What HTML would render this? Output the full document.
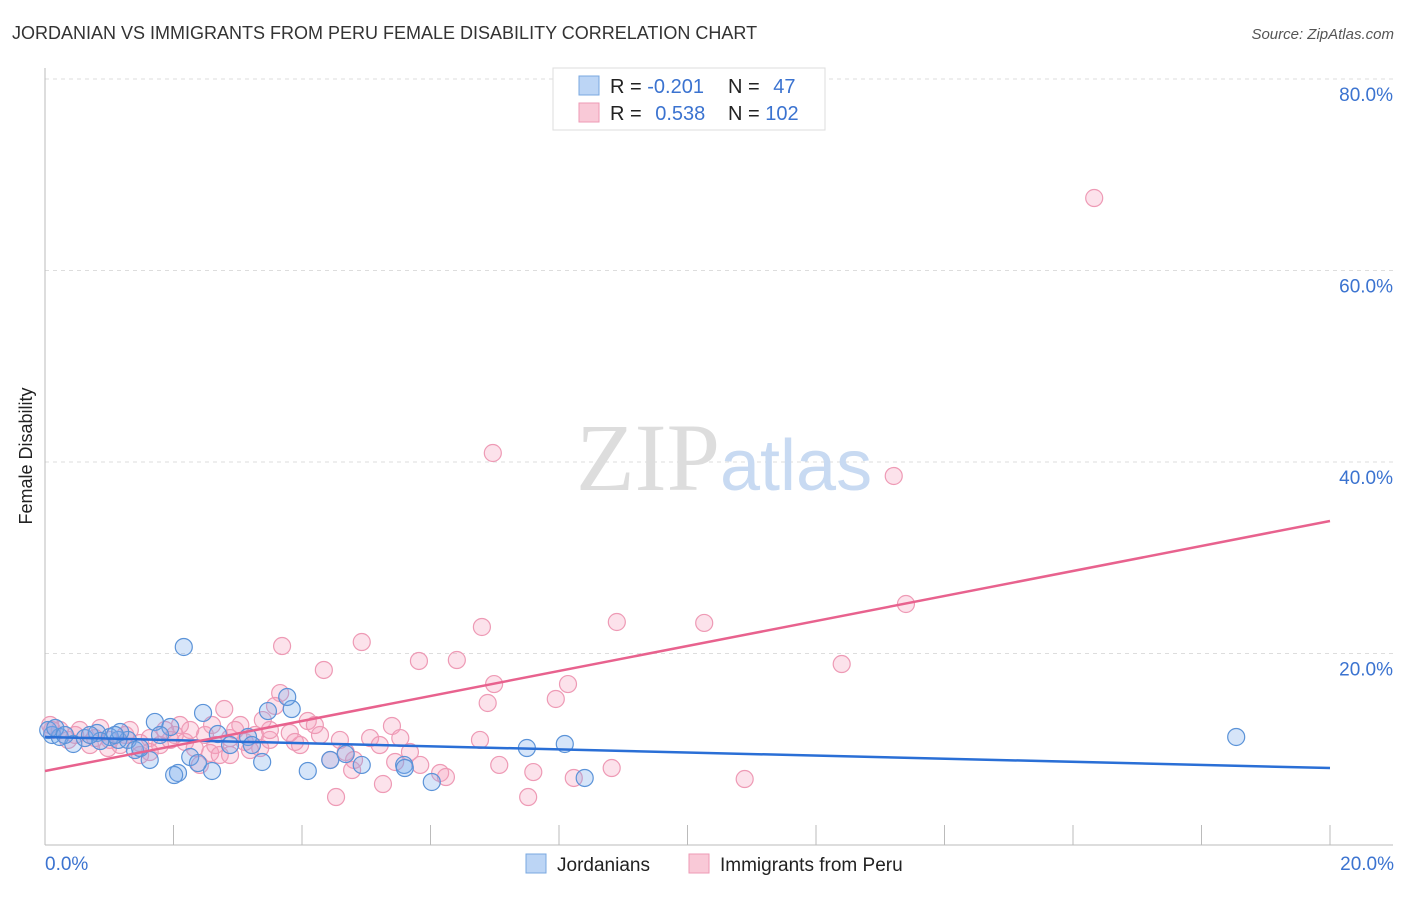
<!DOCTYPE html>
<html><head><meta charset="utf-8">
<style>
body{margin:0;background:#fff;font-family:"Liberation Sans",sans-serif;}
svg text{font-family:"Liberation Sans",sans-serif;}
</style></head>
<body>
<svg id="chart" width="1406" height="892" viewBox="0 0 1406 892">
<text x="12" y="39" font-size="18" fill="#333">JORDANIAN VS IMMIGRANTS FROM PERU FEMALE DISABILITY CORRELATION CHART</text>
<text x="1394" y="39" font-size="15" fill="#555" font-style="italic" text-anchor="end">Source: ZipAtlas.com</text>
<text x="32" y="456" font-size="18" fill="#222" text-anchor="middle" transform="rotate(-90 32 456)">Female Disability</text>
<g id="grid"></g>
<g id="axes"></g>
<text x="720" y="490" font-size="96" fill="#ddd" text-anchor="end" font-family="Liberation Serif" style="font-family:'Liberation Serif',serif">ZIP</text>
<text x="720" y="490" font-size="72" fill="#c8daf2">atlas</text>
<g id="points"></g>
<g id="lines"></g>
<g>
<rect x="553" y="68" width="272" height="62" fill="#fff" stroke="#ddd"/>
<rect x="579" y="76" width="20" height="19" fill="#bcd5f5" stroke="#7aa8e0"/>
<rect x="579" y="103" width="20" height="19" fill="#f9c9d7" stroke="#ee9ab5"/>
<text x="610" y="93" font-size="20" fill="#222">R = <tspan fill="#3b73d0">-0.201</tspan></text>
<text x="728" y="93" font-size="20" fill="#222">N = <tspan fill="#3b73d0" dx="8">47</tspan></text>
<text x="610" y="120" font-size="20" fill="#222">R = <tspan fill="#3b73d0" dx="8">0.538</tspan></text>
<text x="728" y="120" font-size="20" fill="#222">N = <tspan fill="#3b73d0">102</tspan></text>
</g>
<g>
<rect x="526" y="854" width="20" height="19" fill="#bcd5f5" stroke="#7aa8e0"/>
<text x="557" y="871" font-size="19" fill="#222">Jordanians</text>
<rect x="689" y="854" width="20" height="19" fill="#f9c9d7" stroke="#ee9ab5"/>
<text x="720" y="871" font-size="19" fill="#222">Immigrants from Peru</text>
</g>
</svg>
<script>
const blueX=[2.16,2.46,3.84,3.77,3.47,1.71,1.95,2.07,2.01,1.63,2.26,2.60,2.69,3.16,3.38,4.09,4.44,4.93,4.68,5.59,5.60,6.02,7.50,8.09,8.40,18.54,0.11,0.23,0.44,0.62,0.81,1.01,1.14,1.29,1.40,1.48,1.17,0.05,0.16,0.31,0.86,0.70,1.79,2.38,3.22,2.88,1.09];
const blueY=[20.68,13.79,14.20,15.46,13.99,12.85,12.32,7.52,7.31,8.88,9.19,7.73,11.59,11.28,8.67,7.73,8.88,8.36,9.50,8.36,8.04,6.58,10.13,10.55,7.00,11.28,11.49,11.28,10.55,11.17,11.70,11.28,10.97,10.97,9.92,10.13,11.80,12.01,12.22,11.49,10.86,11.49,11.49,8.56,10.44,10.44,11.49];
const pinkX=[16.33,6.97,13.21,13.40,6.80,8.90,10.26,4.93,3.69,5.82,6.41,4.34,12.40,6.99,8.14,7.95,6.89,3.66,3.58,2.79,4.09,5.40,2.10,3.04,3.97,4.59,5.06,5.53,6.77,5.68,4.68,4.81,5.45,5.84,4.44,4.78,6.15,6.24,7.07,7.60,8.23,8.82,10.89,4.53,5.26,7.52,0.23,0.47,0.70,0.86,1.01,1.25,1.48,1.63,1.79,1.95,2.18,2.33,2.49,2.65,2.88,3.11,3.27,3.35,3.50,2.57,2.72,2.41,1.87,1.32,0.78,0.54,0.36,0.11,0.08,1.63,2.02,3.81,3.19,2.96,4.28,2.60,0.98,1.48,1.17,2.26,3.50,3.89,2.88,3.39,4.20,5.21];
const pinkY=[67.57,40.94,38.54,25.17,22.77,23.29,23.19,21.20,20.78,19.22,19.32,18.28,18.90,16.81,16.81,15.25,14.83,15.87,14.52,14.20,12.95,12.43,12.53,12.53,10.44,10.97,11.17,11.17,10.97,9.71,9.71,8.88,8.67,8.36,8.88,7.83,7.52,7.10,8.36,7.62,7.00,8.04,6.89,5.01,6.37,5.01,12.01,11.49,10.44,12.22,10.97,11.49,10.65,11.17,10.44,10.97,10.76,10.13,11.49,10.44,11.17,10.76,11.49,10.13,10.97,9.61,9.40,8.36,12.01,12.01,11.17,12.01,10.97,12.01,12.53,9.71,11.49,11.70,9.92,12.01,11.49,12.53,10.13,9.40,10.44,12.01,12.01,10.76,9.40,13.05,12.53,10.44];
const blueTrend=[11.28,8.04];
const pinkTrend=[7.73,33.84];
const yTicks=[20,40,60,80];
const yTickLabels=["20.0%","40.0%","60.0%","80.0%"];
const xTickCount=10;

const NS="http://www.w3.org/2000/svg";
const X0=45,X1=1330,Y0=845,PXY=9.575;
const sx=v=>X0+(v/20)*(X1-X0);
const sy=v=>Y0-v*PXY;
function mk(tag,attrs,parent){const e=document.createElementNS(NS,tag);for(const k in attrs)e.setAttribute(k,attrs[k]);parent.appendChild(e);return e;}
const grid=document.getElementById('grid'),axes=document.getElementById('axes'),pts=document.getElementById('points'),lines=document.getElementById('lines');
yTicks.forEach((t,i)=>{
 const g=mk('line',{x1:X0,x2:1393,y1:sy(t),y2:sy(t),stroke:'#ddd','stroke-dasharray':'4,4'},grid);
 
 
 const tx=mk('text',{x:1393,y:sy(t)+22,'font-size':19,fill:'#3b73d0','text-anchor':'end'},axes);
 tx.textContent=yTickLabels[i];
 
 
});
const ax=mk('line',{x1:X0,x2:X0,y1:68,y2:Y0,stroke:'#bbb'},axes);


const bx=mk('line',{x1:X0,x2:1393,y1:Y0,y2:Y0,stroke:'#bbb'},axes);


for(let i=1;i<=xTickCount;i++){
 const t=mk('line',{x1:sx(i*2),x2:sx(i*2),y1:825,y2:Y0,stroke:'#bbb'},axes);
 
 
}
const xl=mk('text',{x:45,y:870,'font-size':19,fill:'#3b73d0'},axes);xl.textContent='0.0%';


const xr=mk('text',{x:1394,y:870,'font-size':19,fill:'#3b73d0','text-anchor':'end'},axes);xr.textContent='20.0%';


function dots(xs,ys,fill,stroke,name){
 xs.forEach((x,i)=>{
  const c=mk('circle',{cx:sx(x),cy:sy(ys[i]),r:8.5,fill:fill,stroke:stroke,'stroke-width':1.2},pts);
  
  
 });
}
dots(pinkX,pinkY,'rgba(244,160,188,0.3)','#ee9ab5','point-peru');
dots(blueX,blueY,'rgba(120,170,235,0.3)','#5b93d8','point-jordanian');
const lb=mk('line',{x1:sx(0),y1:sy(blueTrend[0]),x2:sx(20),y2:sy(blueTrend[1]),stroke:'#2a6fd6','stroke-width':2.5},lines);


const lp=mk('line',{x1:sx(0),y1:sy(pinkTrend[0]),x2:sx(20),y2:sy(pinkTrend[1]),stroke:'#e8628e','stroke-width':2.5},lines);


</script>
</body></html>
